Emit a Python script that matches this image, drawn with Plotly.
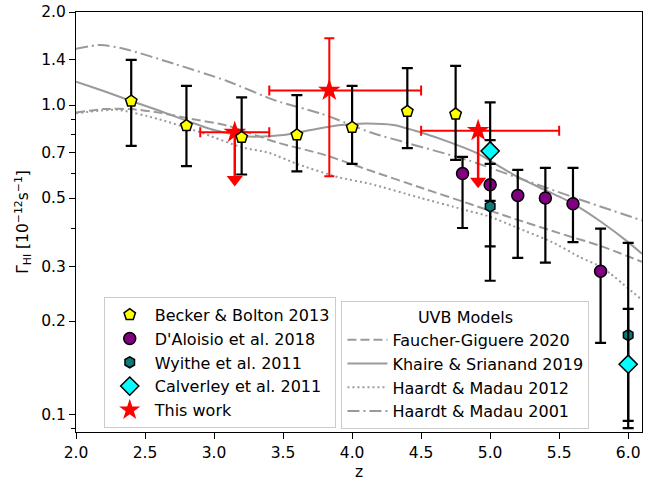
import numpy as np
import plotly.graph_objects as go

# ---------------- data ----------------
# UVB model curves (z, Gamma_HI)
fg20_z = [2.0, 2.2, 2.4, 2.6, 2.8, 3.1, 3.45, 3.8, 4.13, 4.5, 4.85, 5.2, 5.5, 5.8, 6.1]
fg20_g = [0.946, 0.97, 0.97, 0.945, 0.908, 0.857, 0.758, 0.69, 0.614, 0.54, 0.479, 0.425, 0.385, 0.35, 0.311]

ks19_z = [2.0, 2.2, 2.4, 2.6, 2.8, 3.0, 3.2, 3.3, 3.5, 3.7, 3.9, 4.1, 4.3, 4.5, 4.7, 4.9, 5.0, 5.2, 5.4, 5.6, 5.8, 6.0, 6.1]
ks19_g = [1.19, 1.11, 1.03, 0.96, 0.89, 0.83, 0.795, 0.79, 0.80, 0.83, 0.86, 0.872, 0.862, 0.815, 0.76, 0.70, 0.66, 0.585, 0.53, 0.48, 0.42, 0.36, 0.33]

hm12_z = [2.0, 2.3, 2.6, 2.9, 3.2, 3.4, 3.6, 3.9, 4.13, 4.5, 4.8, 5.0, 5.2, 5.45, 5.65, 5.8, 5.87, 6.1]
hm12_g = [0.94, 0.965, 0.90, 0.816, 0.73, 0.70, 0.645, 0.584, 0.556, 0.50, 0.46, 0.435, 0.40, 0.36, 0.322, 0.30, 0.285, 0.234]

hm01_z = [2.0, 2.18, 2.36, 2.72, 3.09, 3.45, 3.77, 4.0, 4.13, 4.42, 4.85, 5.19, 5.67, 6.1]
hm01_g = [1.52, 1.565, 1.516, 1.356, 1.198, 1.032, 0.94, 0.86, 0.816, 0.749, 0.661, 0.584, 0.491, 0.423]

# Becker & Bolton 2013
bb_z = [2.4, 2.8, 3.2, 3.6, 4.0, 4.4, 4.75]
bb_g = [1.03, 0.857, 0.786, 0.80, 0.847, 0.953, 0.935]
bb_hi = [1.40, 1.154, 1.058, 1.077, 1.154, 1.316, 1.338]
bb_lo = [0.738, 0.634, 0.596, 0.61, 0.645, 0.725, 0.665]

# D'Aloisio et al. 2018
da_z = [4.8, 5.0, 5.2, 5.4, 5.6, 5.8]
da_g = [0.60, 0.552, 0.51, 0.50, 0.479, 0.29]
da_hi = [0.68, 0.645, 0.617, 0.626, 0.626, 0.398]
da_lo = [0.40, 0.349, 0.32, 0.309, 0.36, 0.17]

# Wyithe et al. 2011
wy_z = [5.0, 6.0]
wy_g = [0.47, 0.18]
wy_hi = [0.77, 0.358]
wy_lo = [0.27, 0.09]

# Calverley et al. 2011
ca_z = [5.0, 6.0]
ca_g = [0.71, 0.145]
ca_hi = [1.02, 0.219]
ca_lo = [0.49, 0.095]

# This work
tw_z = [3.15, 3.835, 4.913]
tw_g = [0.816, 1.115, 0.826]
tw_zlo = [2.9, 3.4, 4.5]
tw_zhi = [3.4, 4.5, 5.5]
tw_hi = [None, 1.645, None]
tw_lo = [None, 0.588, None]
# upper limits (arrows)
ul_z = [3.15, 4.913]
ul_g = [0.816, 0.826]
ul_end = [0.574, 0.567]

xticks = [2.0, 2.5, 3.0, 3.5, 4.0, 4.5, 5.0, 5.5, 6.0]
yticks = [0.1, 0.2, 0.3, 0.5, 0.7, 1.0, 1.4, 2.0]
yticklabels = ["0.1", "0.2", "0.3", "0.5", "0.7", "1.0", "1.4", "2.0"]
yminor = [0.09, 0.4, 0.6, 0.8, 0.9]

# ---------------- figure ----------------
FONT = "DejaVu Sans"
GREY = "#9a9a9a"
fig = go.Figure()

def add_curve(z, g, dash, name, rank):
    fig.add_trace(go.Scatter(x=z, y=g, mode="lines", name=name,
                             line=dict(color=GREY, width=2, dash=dash, shape="spline", smoothing=0.6),
                             legend="legend2", legendrank=rank))

add_curve(fg20_z, fg20_g, "9px,4px", "Faucher-Giguere 2020", 1)
add_curve(ks19_z, ks19_g, "solid", "Khaire & Srianand 2019", 2)
add_curve(hm12_z, hm12_g, "2px,3px", "Haardt & Madau 2012", 3)
add_curve(hm01_z, hm01_g, "12px,4px,2px,4px", "Haardt & Madau 2001", 4)

def errs(g, hi, lo):
    p = [(h - v) if h is not None else 0 for v, h in zip(g, hi)]
    m = [(v - l) if l is not None else 0 for v, l in zip(g, lo)]
    return p, m

# This work: arrows for upper limits
for z0, g0, ge in zip(ul_z, ul_g, ul_end):
    fig.add_trace(go.Scatter(x=[z0, z0], y=[g0, ge], mode="lines",
                             line=dict(color="red", width=2.5), showlegend=False, hoverinfo="skip"))
fig.add_trace(go.Scatter(x=ul_z, y=ul_end, mode="markers", showlegend=False, hoverinfo="skip",
                         marker=dict(symbol="triangle-down", size=14, color="red", line=dict(width=0))))

tp, tm = errs(tw_g, tw_hi, tw_lo)
fig.add_trace(go.Scatter(
    x=tw_z, y=tw_g, mode="markers", name="This work", legendrank=5,
    marker=dict(symbol="star", size=17, color="red", line=dict(width=0)),
    error_y=dict(type="data", array=tp, arrayminus=tm, symmetric=False, color="red", thickness=2, width=5),
    error_x=dict(type="data", array=[h - z for z, h in zip(tw_z, tw_zhi)],
                 arrayminus=[z - l for z, l in zip(tw_z, tw_zlo)], symmetric=False,
                 color="red", thickness=2, width=5)))

def add_points(z, g, hi, lo, name, symbol, size, color, rank):
    p, m = errs(g, hi, lo)
    fig.add_trace(go.Scatter(
        x=z, y=g, mode="markers", name=name, legendrank=rank,
        marker=dict(symbol=symbol, size=size, color=color, line=dict(color="black", width=1.5)),
        error_y=dict(type="data", array=p, arrayminus=m, symmetric=False, color="black", thickness=2.2, width=5.5)))

add_points(bb_z, bb_g, bb_hi, bb_lo, "Becker & Bolton 2013", "pentagon", 12, "#ffff00", 1)
add_points(da_z, da_g, da_hi, da_lo, "D'Aloisio et al. 2018", "circle", 12, "#800080", 2)
add_points(wy_z, wy_g, wy_hi, wy_lo, "Wyithe et al. 2011", "hexagon", 11, "#0b7a7a", 3)
add_points(ca_z, ca_g, ca_hi, ca_lo, "Calverley et al. 2011", "diamond", 14, "#00ffff", 4)

axis_common = dict(showline=True, linecolor="black", linewidth=1.2, mirror=True,
                   ticks="outside", ticklen=6, tickwidth=1.2, tickcolor="black",
                   showgrid=False, zeroline=False, automargin=False,
                   tickfont=dict(family=FONT, size=15.5, color="black"))

fig.update_layout(
    width=663, height=481,
    margin=dict(l=76, r=21, t=12, b=49),
    paper_bgcolor="white", plot_bgcolor="white",
    font=dict(family=FONT, size=15, color="black"),
    hovermode=False,
    xaxis=dict(range=[2.0, 6.1], tickvals=xticks, ticktext=["%.1f" % v for v in xticks],
               title=dict(text="z", font=dict(family=FONT, size=15.5), standoff=7), **axis_common),
    yaxis=dict(type="log", range=[np.log10(0.0875), np.log10(2.0)], tickvals=yticks, ticktext=yticklabels,
               ticklabeloverflow="allow",
               minor=dict(tickvals=yminor, ticks="outside", ticklen=3.5, tickwidth=1, tickcolor="black"),
               title=dict(text="Γ<sub>HI</sub> [10<sup>−12</sup>s<sup>−1</sup>]",
                          font=dict(family=FONT, size=15.5), standoff=8), **axis_common),
    legend=dict(x=0.049, y=0.322, xanchor="left", yanchor="top",
                bgcolor="rgba(255,255,255,0.8)", bordercolor="#cccccc", borderwidth=1,
                font=dict(family=FONT, size=16), itemwidth=40),
    legend2=dict(x=0.469, y=0.312, xanchor="left", yanchor="top",
                 bgcolor="rgba(255,255,255,0.8)", bordercolor="#cccccc", borderwidth=1,
                 font=dict(family=FONT, size=16), itemwidth=40,
                 title=dict(text="UVB Models", side="top center", font=dict(family=FONT, size=16))),
    showlegend=True,
)

fig.write_html("out.html", config={"displayModeBar": False},
               post_script="document.body.style.margin='0';")
